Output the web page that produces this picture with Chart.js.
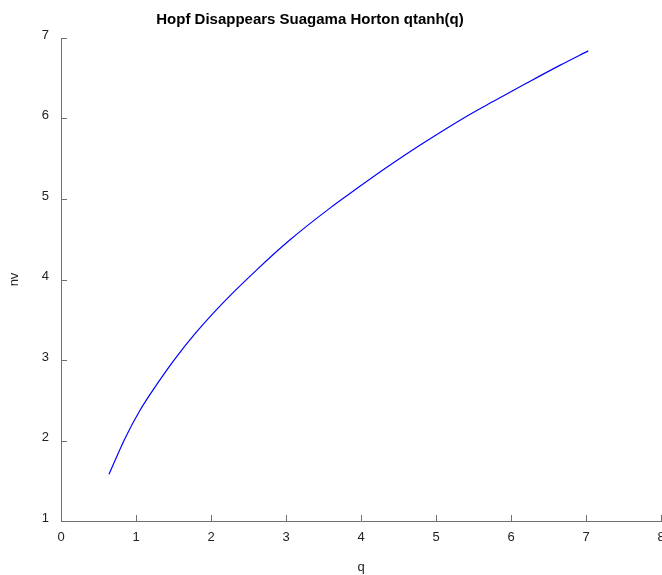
<!DOCTYPE html>
<html>
<head>
<meta charset="utf-8">
<script src="https://cdn.jsdelivr.net/npm/chart.js@4/dist/chart.umd.min.js"></script>
<style>
  html, body { margin: 0; padding: 0; background: #fff; }
  #wrap { width: 662px; height: 575px; }
</style>
</head>
<body>
<div id="wrap"><canvas id="chart" width="662" height="575"></canvas></div>
<script>
const chartTitle = "Hopf Disappears Suagama Horton qtanh(q)";
const xLabel = "q";
const yLabel = "nv";

const qValues = [0.64, 0.85, 1.05, 1.28, 1.50, 1.79, 2.16, 2.61, 3.05, 3.59, 3.90, 4.34, 4.79, 5.45, 5.76, 6.21, 6.65, 7.03];
const nvValues = [1.58, 2.02, 2.37, 2.70, 2.99, 3.33, 3.71, 4.12, 4.49, 4.89, 5.10, 5.39, 5.67, 6.05, 6.21, 6.44, 6.66, 6.84];

const xTicks = [0, 1, 2, 3, 4, 5, 6, 7, 8];
const yTicks = [1, 2, 3, 4, 5, 6, 7];

const points = qValues.map((q, i) => ({ x: q, y: nvValues[i] }));

// title centred a bit left of the canvas middle, like the original
const titlePlugin = {
  id: "leftTitle",
  afterDraw(chart) {
    const ctx = chart.ctx;
    ctx.save();
    ctx.font = "bold 15px 'Liberation Sans', Arial, sans-serif";
    ctx.fillStyle = "#000";
    ctx.textAlign = "center";
    ctx.textBaseline = "middle";
    ctx.fillText(chartTitle, 310, 20);
    ctx.restore();
  }
};

// inward tick marks
const innerTicks = {
  id: "innerTicks",
  afterDraw(chart) {
    const ctx = chart.ctx;
    const xs = chart.scales.x, ys = chart.scales.y;
    const area = chart.chartArea;
    ctx.save();
    ctx.strokeStyle = "#707070";
    ctx.lineWidth = 1;
    ctx.beginPath();
    xTicks.forEach(v => {
      const px = Math.round(xs.getPixelForValue(v)) + 0.5;
      ctx.moveTo(px, area.bottom);
      ctx.lineTo(px, area.bottom - 6);
    });
    yTicks.forEach(v => {
      const py = Math.round(ys.getPixelForValue(v)) + 0.5;
      ctx.moveTo(area.left, py);
      ctx.lineTo(area.left + 6, py);
    });
    ctx.stroke();
    ctx.restore();
  }
};

Chart.defaults.font.family = "'Liberation Sans', Arial, sans-serif";
Chart.defaults.color = "#222";

new Chart(document.getElementById("chart"), {
  type: "scatter",
  data: {
    datasets: [{
      data: points,
      showLine: true,
      borderColor: "#0000ff",
      borderWidth: 1.2,
      pointRadius: 0,
      cubicInterpolationMode: "monotone",
      fill: false
    }]
  },
  options: {
    responsive: false,
    animation: false,
    layout: { padding: { top: 38, right: 1, left: 0, bottom: 0 } },
    plugins: {
      legend: { display: false },
      tooltip: { enabled: false },
      title: { display: false }
    },
    scales: {
      x: {
        type: "linear",
        min: 0,
        max: 8,
        afterBuildTicks(scale) { scale.ticks = xTicks.map(v => ({ value: v })); },
        afterFit(scale) { scale.height = 54; scale.paddingRight = 0; scale.paddingLeft = 0; },
        grid: { drawOnChartArea: false, drawTicks: false },
        border: { display: true, color: "#707070", width: 1 },
        ticks: { padding: 9, font: { size: 13 }, color: "#222", maxRotation: 0 },
        title: { display: true, text: xLabel, font: { size: 13 }, color: "#222", padding: { top: 4, bottom: 0 } }
      },
      y: {
        type: "linear",
        min: 1,
        max: 7,
        afterBuildTicks(scale) { scale.ticks = yTicks.map(v => ({ value: v })); },
        afterFit(scale) { scale.width = 61; scale.paddingTop = 0; scale.paddingBottom = 0; },
        grid: { drawOnChartArea: false, drawTicks: false },
        border: { display: true, color: "#707070", width: 1 },
        ticks: { padding: 12, labelOffset: -3, font: { size: 13 }, color: "#222" },
        title: { display: true, text: yLabel, font: { size: 13 }, color: "#222", padding: { top: 7, bottom: 0 } }
      }
    }
  },
  plugins: [titlePlugin, innerTicks]
});
</script>
</body>
</html>
